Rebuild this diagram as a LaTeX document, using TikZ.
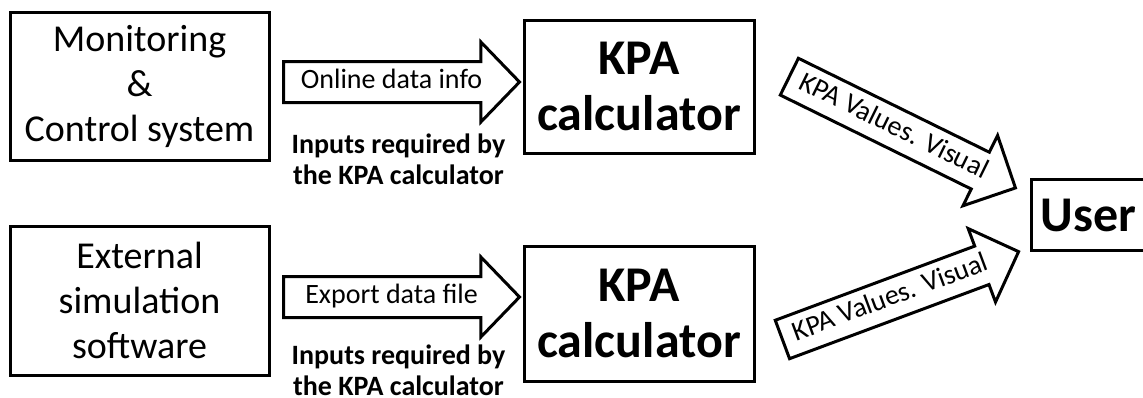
\documentclass[tikz,border=0pt]{standalone}
\usepackage{fontspec}
\setmainfont{Carlito}
\usetikzlibrary{shapes.arrows}

\tikzset{
	block/.style={draw, line width=3pt, inner sep=0pt, align=center},
	boxtext/.style={font=\fontsize{38}{45}\selectfont},
	kpatext/.style={font=\bfseries\fontsize{50}{56}\selectfont},
	flow/.style={single arrow, draw, line width=3pt, anchor=tail, inner ysep=6.5pt,
		text height=19pt, text depth=6pt, font=\fontsize{28}{32}\selectfont},
	flowh/.style={flow, inner xsep=7pt, minimum height=236pt, single arrow head extend=19.5pt,
		single arrow tip angle=92},
	flowd/.style={flow, inner xsep=3pt, minimum height=252pt, single arrow head extend=18.7pt,
		single arrow tip angle=90},
	note/.style={align=center, inner sep=0pt, font=\bfseries\fontsize{28}{31}\selectfont}
}

\begin{document}
\begin{tikzpicture}[x=1pt, y=-1pt]
	\useasboundingbox (0,0) rectangle (1143,397);
	\node [block, boxtext, minimum width=259pt, minimum height=148pt] (mon) at (139.5,86) {Monitoring\\\&\\Control system};
	\node [block, boxtext, minimum width=259pt, minimum height=149pt] (ext) at (139.5,300.5) {External\\simulation\\software};
	\node [block, kpatext, minimum width=230pt, minimum height=133pt] (kpa1) at (639,86.5) {KPA\\calculator};
	\node [block, kpatext, minimum width=230pt, minimum height=135pt] (kpa2) at (639,313.5) {KPA\\calculator};
	\node [block, kpatext, minimum width=114pt, minimum height=71pt] (user) at (1088.5,215) {User};

	\node [flowh] (online) at (282,82) {Online data info};
	\node [flowh] (export) at (282,297) {Export data file};
	\node [note] (in1) at (398.5,159.5) {Inputs required by\\the KPA calculator};
	\node [note] (in2) at (398.5,370.5) {Inputs required by\\the KPA calculator};

	\node [flowd, rotate=-26.2] (val1) at (788,76) {KPA Values. Visual};
	\node [flowd, rotate=20.4] (val2) at (781,340) {KPA Values. Visual};
\end{tikzpicture}
\end{document}
